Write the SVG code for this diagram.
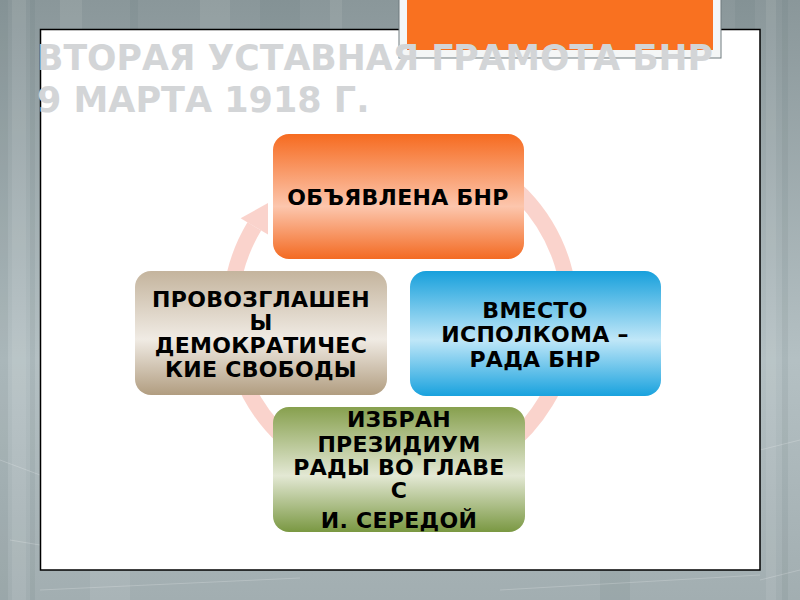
<svg xmlns="http://www.w3.org/2000/svg" width="800" height="600" viewBox="0 0 800 600">
<defs>
<linearGradient id="bg" x1="0" y1="0" x2="0" y2="1">
<stop offset="0" stop-color="#8a979a"/>
<stop offset="0.6" stop-color="#b4c0c3"/>
<stop offset="1" stop-color="#a2aeb1"/>
</linearGradient>
<linearGradient id="gOrange" x1="0" y1="0" x2="0" y2="1">
<stop offset="0" stop-color="#f66b20"/>
<stop offset="0.58" stop-color="#fcc6ad"/>
<stop offset="1" stop-color="#f36a22"/>
</linearGradient>
<linearGradient id="gTan" x1="0" y1="0" x2="0" y2="1">
<stop offset="0" stop-color="#c4b49d"/>
<stop offset="0.55" stop-color="#f0ebe4"/>
<stop offset="1" stop-color="#b19d80"/>
</linearGradient>
<linearGradient id="gBlue" x1="0" y1="0" x2="0" y2="1">
<stop offset="0" stop-color="#17a0dc"/>
<stop offset="0.55" stop-color="#c0e7f8"/>
<stop offset="1" stop-color="#19a2de"/>
</linearGradient>
<linearGradient id="gGreen" x1="0" y1="0" x2="0" y2="1">
<stop offset="0" stop-color="#87a04e"/>
<stop offset="0.55" stop-color="#e3e8d4"/>
<stop offset="1" stop-color="#7a9842"/>
</linearGradient>
<style>
.box{stroke:none}
.lbl{font-family:"DejaVu Sans",Verdana,sans-serif;font-weight:bold;font-size:22px;fill:#000;text-anchor:middle;letter-spacing:0.3px}
.title{font-family:"DejaVu Sans",Verdana,sans-serif;font-weight:bold;font-size:35px;fill:#d3d5d7}
.stripe{fill:#ffffff;opacity:0.08}
.dstripe{fill:#5d6b70;opacity:0.1}
.streak{stroke:#ffffff;stroke-opacity:0.2;stroke-width:1;fill:none}
.ring{fill:none;stroke:#f9cec6;stroke-width:16;opacity:0.9}
</style>
</defs>
<g id="background">
<rect x="0" y="0" width="800" height="600" fill="url(#bg)"/>
<rect class="dstripe" x="0" y="0" width="8" height="600"/>
<rect class="stripe" x="12" y="0" width="14" height="600"/>
<rect class="dstripe" x="30" y="0" width="5" height="600"/>
<rect class="stripe" x="60" y="0" width="22" height="30"/>
<rect class="dstripe" x="130" y="0" width="8" height="30"/>
<rect class="stripe" x="200" y="0" width="30" height="30"/>
<rect class="dstripe" x="260" y="0" width="40" height="30"/>
<rect class="stripe" x="330" y="0" width="12" height="30"/>
<rect class="dstripe" x="735" y="0" width="20" height="30"/>
<rect class="stripe" x="766" y="0" width="10" height="600"/>
<rect class="dstripe" x="782" y="0" width="6" height="600"/>
<rect class="stripe" x="90" y="570" width="40" height="30"/>
<rect class="dstripe" x="600" y="570" width="30" height="30"/>
<path class="streak" d="M0 460 L40 475 M10 540 L40 545 M760 450 L800 440 M760 580 L800 570 M40 590 L300 578 M500 590 L760 575"/>
</g>
<rect id="panel" x="40.5" y="29.5" width="719.5" height="540.5" fill="#ffffff" stroke="#000" stroke-width="1.5"/>
<g id="accent">
<rect x="399" y="-2" width="322" height="60" fill="#f4f6f6" stroke="#6e7a7e" stroke-width="1"/>
<rect x="407" y="0" width="306" height="50" fill="#f97120"/>
</g>
<g id="title">
<text class="title" x="37" y="70" textLength="676" lengthAdjust="spacingAndGlyphs">ВТОРАЯ УСТАВНАЯ ГРАМОТА БНР</text>
<text class="title" x="37" y="112">9 МАРТА 1918 Г.</text>
</g>
<g id="connectors">
<path class="ring" d="M385.2 144.6 A170 170 0 1 1 254.3 226.4"/>
<polygon points="268,203 240.6,218.2 268,234.6" fill="#f9cec6" opacity="0.9"/>
</g>
<g id="node-top">
<rect class="box" x="273" y="134" width="251" height="125" rx="16" fill="url(#gOrange)"/>
<text class="lbl" x="398" y="205">ОБЪЯВЛЕНА БНР</text>
</g>
<g id="node-left">
<rect class="box" x="135" y="271" width="252" height="124" rx="16" fill="url(#gTan)"/>
<text class="lbl" x="261" y="307">ПРОВОЗГЛАШЕН</text>
<text class="lbl" x="261" y="330">Ы</text>
<text class="lbl" x="261" y="353">ДЕМОКРАТИЧЕС</text>
<text class="lbl" x="261" y="377">КИЕ СВОБОДЫ</text>
</g>
<g id="node-right">
<rect class="box" x="410" y="271" width="251" height="125" rx="16" fill="url(#gBlue)"/>
<text class="lbl" x="535" y="318">ВМЕСТО</text>
<text class="lbl" x="535" y="342">ИСПОЛКОМА –</text>
<text class="lbl" x="535" y="367">РАДА БНР</text>
</g>
<g id="node-bottom">
<rect class="box" x="273" y="407" width="252" height="125" rx="16" fill="url(#gGreen)"/>
<text class="lbl" x="399" y="427">ИЗБРАН</text>
<text class="lbl" x="399" y="452">ПРЕЗИДИУМ</text>
<text class="lbl" x="399" y="475">РАДЫ ВО ГЛАВЕ</text>
<text class="lbl" x="399" y="498">С</text>
<text class="lbl" x="399" y="528">И. СЕРЕДОЙ</text>
</g>
</svg>
